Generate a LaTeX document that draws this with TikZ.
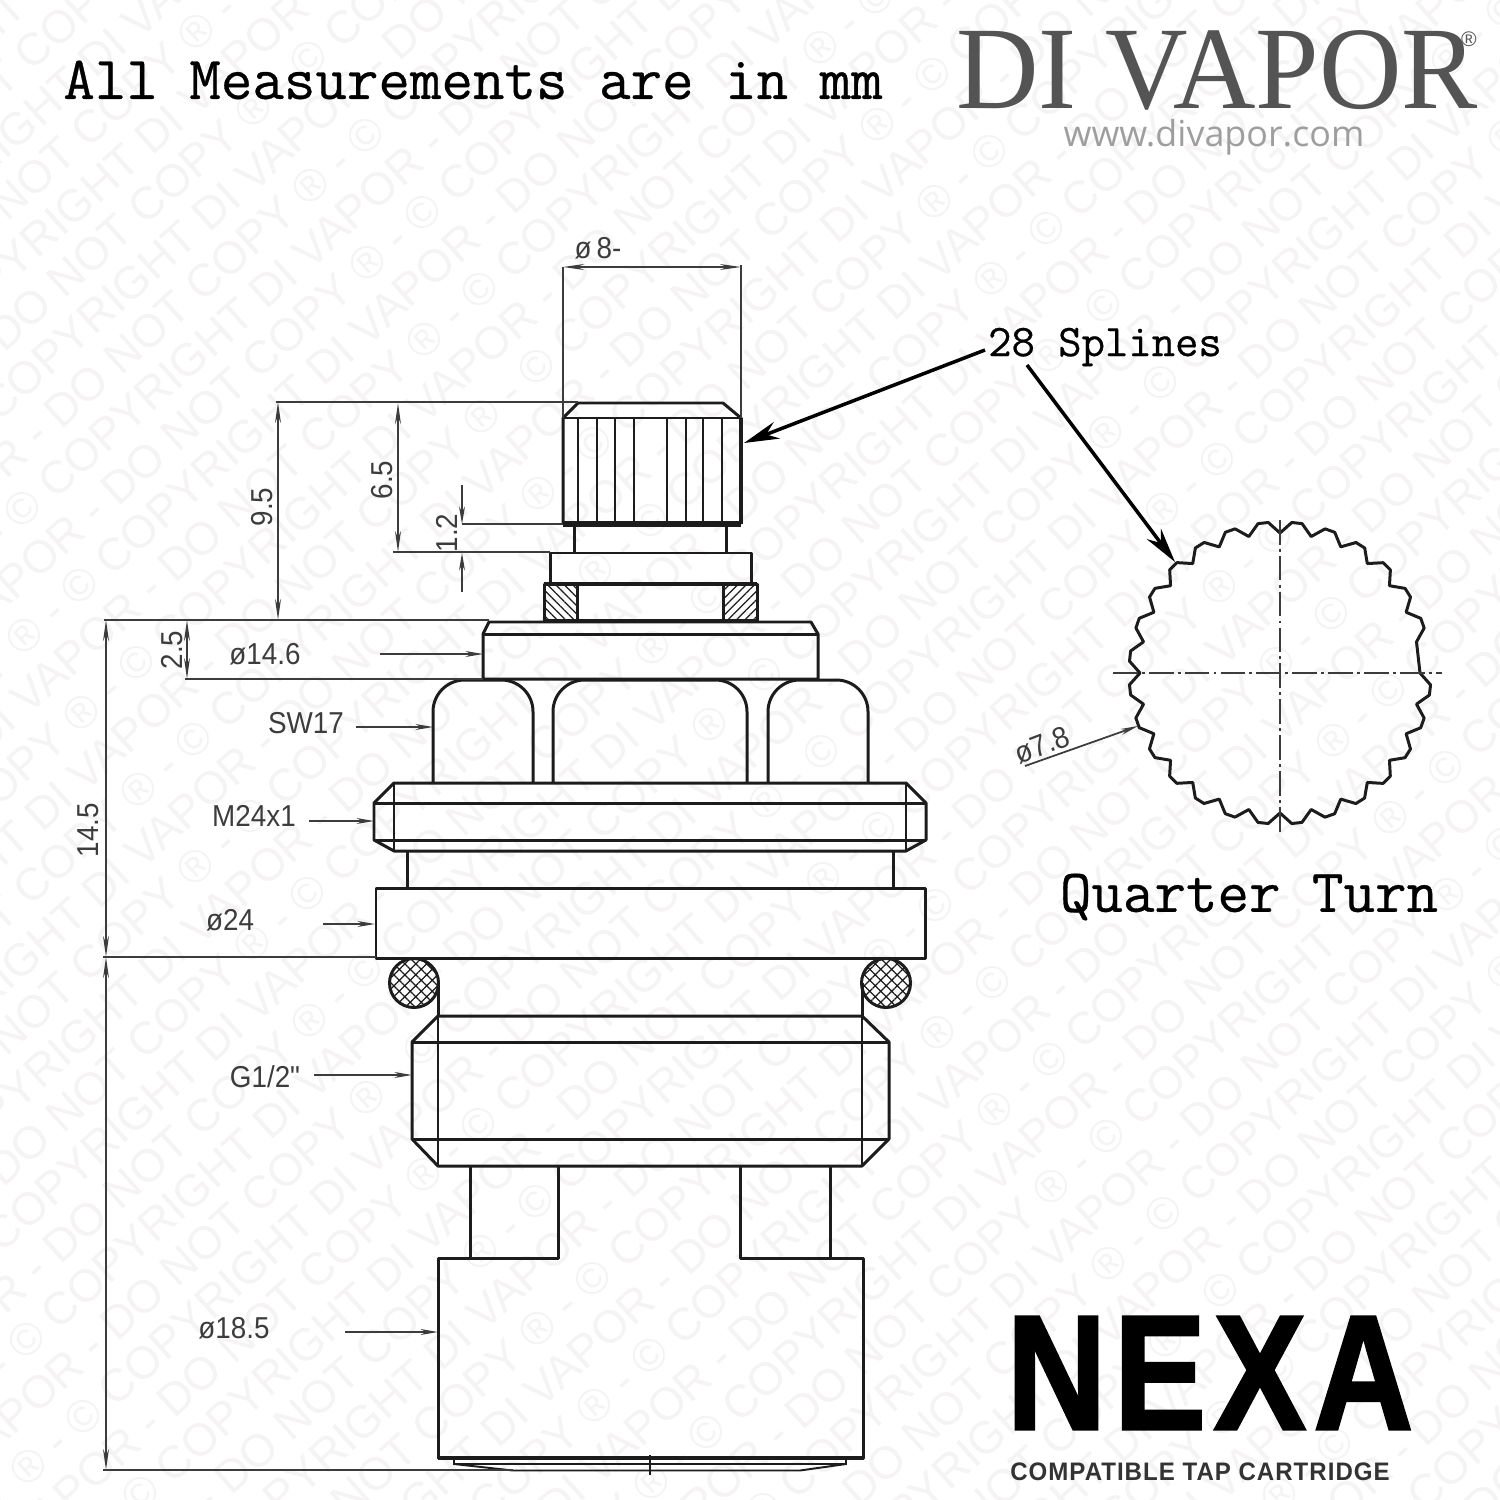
\documentclass[tikz,border=0pt]{standalone}
\usepackage{fontspec}
\usetikzlibrary{arrows.meta,patterns.meta}
\newfontfamily\dimfont[FakeStretch=0.92]{Liberation Sans}
\newfontfamily\wmfont{Liberation Sans}
\newfontfamily\titlefont[FakeBold=0.5]{Latin Modern Mono}
\newfontfamily\wwwfont{Open Sans}
\newfontfamily\logofont[FakeStretch=0.97]{Liberation Serif}
\newfontfamily\nexafont[UprightFont=* Bold,FakeStretch=0.84,FakeBold=1.8,LetterSpace=5]{Liberation Sans}
\newfontfamily\subfont[UprightFont=* Bold,FakeStretch=0.95,LetterSpace=4]{Liberation Sans}
\definecolor{ink}{RGB}{28,28,28}
\definecolor{dimink}{RGB}{60,60,60}
\definecolor{mark}{RGB}{245,243,243}
\newcommand{\wmtext}{© COPYRIGHT DI VAPOR - DO NOT COPY ® - }
\begin{document}
\begin{tikzpicture}[x=0.01cm,y=-0.01cm,
    part/.style={draw=ink,line width=0.85pt,line join=round},
    fine/.style={draw=ink,line width=0.55pt},
    dim/.style={draw=dimink,line width=0.45pt,arrows={Stealth[length=6pt,width=1.7pt]-Stealth[length=6pt,width=1.7pt]}},
    leader/.style={draw=dimink,line width=0.5pt,arrows={-Stealth[length=5pt,width=1.7pt]}},
    callout/.style={draw=black,line width=1pt,arrows={-Stealth[length=10pt,width=5pt]}},
    ext/.style={draw=dimink,line width=0.5pt},
    center line/.style={draw=dimink,line width=0.45pt,dash pattern=on 7pt off 1.2pt on 0.8pt off 1.2pt},
    label/.style={font=\dimfont\fontsize{8.6}{10}\selectfont,text=dimink,inner sep=0pt},
    title/.style={font=\titlefont\fontsize{17.4}{20}\selectfont,text=black,inner sep=0pt},
    wm/.style={font=\wmfont\fontsize{13}{15}\selectfont,text=mark,rotate=42,anchor=west,inner sep=0pt}]
    \useasboundingbox (0,0) rectangle (1500,1500);

    % watermark rows
    \begin{scope}
        \clip (0,0) rectangle (1500,1500);
        \foreach \r in {-32,...,14} {
            \pgfmathsetmacro\wmx{1046+\r*28.5-2000*0.743-mod(abs(\r),2)*500*0.743}
            \pgfmathsetmacro\wmy{1063+\r*38.5+2000*0.669+mod(abs(\r),2)*500*0.669}
            \node[wm] at (\wmx,\wmy) {\wmtext\wmtext\wmtext\wmtext\wmtext};
        }
    \end{scope}

    % stem
    \draw[part] (563,524) -- (563,418) -- (578,403) -- (723,403) -- (741,418) -- (741,524);
    \draw[part] (563,418) -- (741,418);
    \draw[part,line width=1.6pt] (563,524) -- (741,524);
    \draw[part,line width=1.2pt] (741,418) -- (741,524);
    \foreach \x in {578,597,615,634,667,686,703,722} {
        \draw[fine] (\x,418) -- (\x,524);
    }
    \draw[part] (574,524) -- (574,553);
    \draw[part] (726,524) -- (726,553);
    \draw[part] (550,584) -- (550,553) -- (751,553) -- (751,584);
    \draw[part,line width=1.1pt] (544,584) -- (757,584);

    % seal ring section
    \draw[part,pattern={Lines[angle=-45,distance=1.7pt,line width=0.35pt]},pattern color=ink] (544,584) rectangle (577,621);
    \draw[part,pattern={Lines[angle=45,distance=1.7pt,line width=0.35pt]},pattern color=ink] (723,584) rectangle (757,621);

    % top plate
    \draw[part,line width=1.1pt] (544,621) -- (757,621);
    \draw[part] (483,679) -- (483,634) -- (489,622) -- (811,622) -- (818,634) -- (818,679) -- cycle;
    \draw[part] (483,634) -- (818,634);

    % hex
    \draw[part,rounded corners=9pt] (433,783) -- (433,680) -- (533,680) -- (533,783);
    \draw[part,rounded corners=9pt] (553,783) -- (553,680) -- (747,680) -- (747,783);
    \draw[part,rounded corners=9pt] (768,783) -- (768,680) -- (868,680) -- (868,783);

    % thread ring
    \draw[part] (394,783) -- (906,783) -- (926,803) -- (926,840) -- (906,851) -- (394,851) -- (374,840) -- (374,803) -- cycle;
    \draw[part] (374,803) -- (926,803);
    \draw[part] (374,840) -- (926,840);
    \draw[fine] (394,783) -- (394,851);
    \draw[fine] (906,783) -- (906,851);
    \draw[part] (407,851) -- (407,888);
    \draw[part] (893,851) -- (893,888);
    \draw[part] (376,888) rectangle (925,958);

    % o-rings
    \draw[part,pattern={Hatch[angle=45,distance=2.2pt,line width=0.35pt]},pattern color=ink] (414,983) circle (24.5);
    \draw[part,pattern={Hatch[angle=45,distance=2.2pt,line width=0.35pt]},pattern color=ink] (886,983) circle (24.5);

    % G1/2 thread
    \draw[part] (438,983) -- (438,1016);
    \draw[part] (862,983) -- (862,1016);
    \draw[part] (438,1016) -- (862,1016) -- (889,1042) -- (889,1139) -- (862,1166) -- (438,1166) -- (412,1139) -- (412,1042) -- cycle;
    \draw[part] (412,1042) -- (889,1042);
    \draw[part] (412,1139) -- (889,1139);
    \draw[fine] (438,1016) -- (438,1166);
    \draw[fine] (862,1016) -- (862,1166);

    % legs and base
    \draw[part] (470,1166) -- (470,1258);
    \draw[part] (830,1166) -- (830,1258);
    \draw[part] (558,1166) -- (558,1258) -- (438,1258) -- (438,1458) -- (863,1458) -- (863,1258) -- (740,1258) -- (740,1166);
    \draw[part,line width=1.2pt] (438,1458) -- (863,1458);
    \draw[fine] (454,1458) -- (454,1464) -- (846,1464) -- (846,1458);
    \draw[fine] (454,1464) -- (513,1470.5) -- (800,1470.5) -- (846,1464);
    \draw[fine] (650,1455) -- (650,1475);

    % spline wheel
    \draw[part,shift={(1280,673)}] (0:140) foreach \a in {0,12.857,...,347} {
            -- (\a+4.5:151) -- (\a+8.4:151) -- (\a+12.857:140)
        } -- cycle;
    \draw[center line] (1280,520) -- (1280,832);
    \draw[center line] (1113,673) -- (1442,673);

    % labels
    \node[title] at (473,80) (units) {All Measurements are in mm};
    \node[title,font=\titlefont\fontsize{12.9}{16}\selectfont] at (1105,347) (splines) {28 Splines};
    \node[title] at (1249,897) (turn) {Quarter Turn};
    \node[label] at (598,248) (dia8) {ø\,8-};
    \node[label,rotate=90] at (262,507) (len95) {9.5};
    \node[label,rotate=90] at (382,480) (len65) {6.5};
    \node[label,rotate=90] at (447,533) (len12) {1.2};
    \node[label,rotate=90] at (172,650) (len25) {2.5};
    \node[label,rotate=90] at (88,830) (len145) {14.5};
    \node[label] at (265,654) (dia146) {ø14.6};
    \node[label] at (306,723) (sw) {SW17};
    \node[label] at (254,816) (mthread) {M24x1};
    \node[label] at (230,920) (dia24) {ø24};
    \node[label] at (265,1077) (gthread) {G1/2"};
    \node[label] at (234,1328) (dia185) {ø18.5};
    \node[label,rotate=21] at (1042,745) (dia78) {ø7.8};

    % logos
    \node[font=\logofont\fontsize{33.5}{36}\selectfont,text=black!67,inner sep=0pt] at (1217,70) (brand) {DI VAPOR};
    \node[font=\wmfont\fontsize{6}{7}\selectfont,text=black!67,inner sep=0pt] at (1469,39) (regmark) {®};
    \node[font=\wwwfont\fontsize{10.2}{12}\selectfont,text=black!38,inner sep=0pt] at (1214,137) (site) {www.divapor.com};
    \node[font=\nexafont\fontsize{46.5}{50}\selectfont,text=black,inner sep=0pt] at (1210,1373) (nexa) {NEXA};
    \node[font=\subfont\fontsize{7.2}{9}\selectfont,text=black!80,inner sep=0pt] at (1200,1472) (compat) {COMPATIBLE TAP CARTRIDGE};

    % dimension points
    \coordinate (d8a) at (563,267);
    \coordinate (d8b) at (741,267);
    \coordinate (d95a) at (278,402);
    \coordinate (d95b) at (278,620);
    \coordinate (d65a) at (398,403);
    \coordinate (d65b) at (398,552);
    \coordinate (d25a) at (187,620);
    \coordinate (d25b) at (187,679);
    \coordinate (d145a) at (106,620);
    \coordinate (d145b) at (106,957);
    \coordinate (d185b) at (106,1470);
    \coordinate (spa) at (985,350);
    \coordinate (spb) at (744,443);
    \coordinate (spc) at (1027,365);
    \coordinate (spd) at (1175,562);

    \path
        (d8a) edge[dim] (d8b)
        (d95a) edge[dim] (d95b)
        (d65a) edge[dim] (d65b)
        (d25a) edge[dim] (d25b)
        (d145a) edge[dim] (d145b)
        (d145b) edge[dim] (d185b)
        (462,485) edge[leader] (462,524)
        (462,592) edge[leader] (462,553)
        (380,654) edge[leader] (483,654)
        (356,727) edge[leader] (433,727)
        (309,821) edge[leader] (374,821)
        (323,924) edge[leader] (375,924)
        (314,1075) edge[leader] (412,1075)
        (345,1332) edge[leader] (438,1332)
        (1025,766) edge[leader] (1138,726)
        (spa) edge[callout] (spb)
        (spc) edge[callout] (spd)
        ;

    % extension lines
    \path
        (563,267) edge[ext] (563,418)
        (741,265) edge[ext] (741,418)
        (276,402) edge[ext] (578,402)
        (393,552) edge[ext] (550,552)
        (462,524) edge[ext] (563,524)
        (104,620) edge[ext] (489,620)
        (185,679) edge[ext] (483,679)
        (103,957) edge[ext] (376,957)
        (103,1470) edge[ext] (513,1470)
        ;
\end{tikzpicture}
\end{document}
